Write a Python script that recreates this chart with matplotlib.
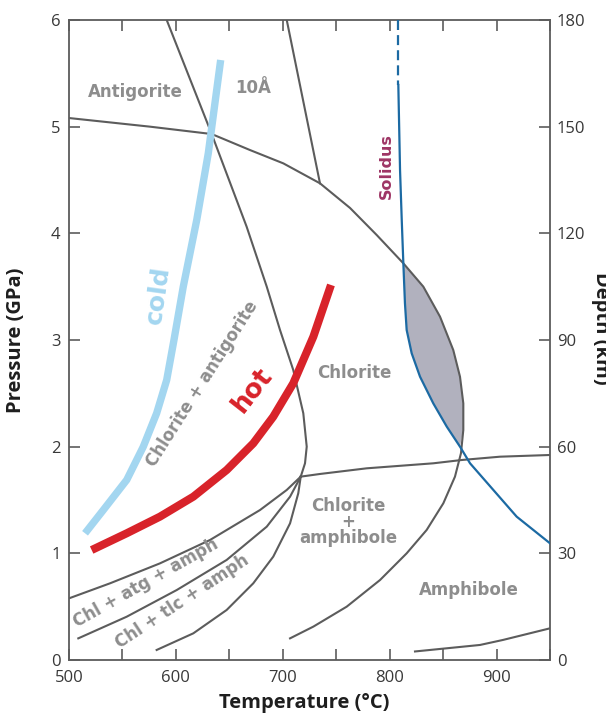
import numpy as np
import matplotlib.pyplot as plt

# phase boundaries, T in degC and P in GPa
arc_T = [500.0, 575.8, 633.5, 669.3, 700.5, 734.8, 762.9, 787.9, 812.8, 831.5, 847.1, 859.5,
         865.8, 868.9, 868.9, 866.7, 861.1, 850.2, 834.6, 815.9, 791.0, 759.8, 728.6, 706.8]
arc_P = [5.081, 5.0, 4.931, 4.781, 4.656, 4.469, 4.238, 3.984, 3.719, 3.5, 3.219, 2.906,
         2.656, 2.406, 2.156, 1.938, 1.719, 1.469, 1.219, 1.0, 0.75, 0.5, 0.313, 0.203]

atg_T = [591.4, 633.5]
atg_P = [6.0, 4.931]

tenA_T = [703.7, 734.8]
tenA_P = [6.0, 4.469]

chlatg_T = [633.5, 666.2, 685.0, 697.4, 709.8, 719.2, 722.4, 720.8, 716.8]
chlatg_P = [4.931, 4.062, 3.5, 3.094, 2.719, 2.313, 2.0, 1.844, 1.719]

horiz_T = [716.8, 734.8, 778.5, 840.8, 867.4, 903.2, 950.0]
horiz_P = [1.719, 1.744, 1.797, 1.844, 1.875, 1.906, 1.922]

lineA_T = [500.0, 538.4, 585.1, 631.9, 678.7, 703.7, 716.8]
lineA_P = [0.578, 0.719, 0.906, 1.125, 1.406, 1.594, 1.719]

lineB_T = [508.7, 554.0, 600.8, 647.5, 685.0, 706.8, 716.8]
lineB_P = [0.203, 0.406, 0.656, 0.938, 1.25, 1.531, 1.719]

lineC_T = [582.0, 616.3, 647.5, 672.4, 691.1, 706.8, 714.5, 716.8]
lineC_P = [0.094, 0.25, 0.469, 0.719, 0.969, 1.281, 1.563, 1.719]

lowr_T = [823.7, 884.5, 906.0, 950.0]
lowr_P = [0.080, 0.141, 0.188, 0.297]

sol_dash_T = [808.1, 808.1]
sol_dash_P = [6.0, 5.391]
sol_T = [808.1, 809.7, 811.3, 812.8, 814.3, 815.9, 820.6, 828.4, 840.8, 853.4, 865.8,
         875.2, 897.0, 918.8, 950.0]
sol_P = [5.391, 4.594, 4.125, 3.719, 3.344, 3.094, 2.875, 2.656, 2.406, 2.188, 2.0,
         1.844, 1.594, 1.344, 1.094]

# subduction P-T paths
cold_T = [515.0, 532.1, 554.0, 569.5, 582.0, 591.4, 598.2, 606.9, 619.5, 630.3, 641.9]
cold_P = [1.188, 1.406, 1.688, 2.0, 2.313, 2.625, 3.0, 3.5, 4.125, 4.75, 5.625]

hot_T = [521.2, 554.0, 585.1, 616.3, 647.5, 672.4, 691.1, 709.8, 728.6, 745.1]
hot_P = [1.031, 1.188, 1.344, 1.531, 1.781, 2.031, 2.281, 2.594, 3.031, 3.516]

dark = '#5c5c5c'
txt = '#8d8d8d'
tickfont = 'Open Sans'
labfont = 'DejaVu Sans'

fig = plt.figure(figsize=(6.06, 7.15), dpi=100)
ax = fig.add_axes([69/606, 55/715, 481/606, 640/715])

# partial melt region between solidus and chlorite-out curve
sT = [t for t, p in zip(sol_T, sol_P) if 2.0 <= p <= 3.72]
sP = [p for p in sol_P if 2.0 <= p <= 3.72]
aT = [t for t, p in zip(arc_T, arc_P) if 2.0 <= p < 3.71]
aP = [p for p in arc_P if 2.0 <= p < 3.71]
ax.fill(sT + aT[::-1], sP + aP[::-1], color='#b1b1be', lw=0, zorder=1)

for xs, ys in [(arc_T, arc_P), (atg_T, atg_P), (tenA_T, tenA_P), (chlatg_T, chlatg_P),
               (horiz_T, horiz_P), (lineA_T, lineA_P), (lineB_T, lineB_P),
               (lineC_T, lineC_P), (lowr_T, lowr_P)]:
    ax.plot(xs, ys, color=dark, lw=1.5, zorder=2, solid_joinstyle='round')

ax.plot(sol_dash_T, sol_dash_P, color='#1c6aa3', lw=1.6, ls=(0, (4.5, 2.3)), zorder=3)
ax.plot(sol_T, sol_P, color='#1c6aa3', lw=1.6, zorder=3, solid_joinstyle='round')

ax.plot(cold_T, cold_P, color='#a3d6f0', lw=5.3, zorder=4, solid_capstyle='butt',
        solid_joinstyle='round')
ax.plot(hot_T, hot_P, color='#d8232a', lw=5.8, zorder=4, solid_capstyle='butt',
        solid_joinstyle='round')

lab = dict(color=txt, fontweight='bold', family=labfont, ha='center', va='center',
           fontsize=12)
ax.text(561.7, 5.325, 'Antigorite', **lab)
ax.text(672.6, 5.367, '10Å', **lab)
ax.text(797.0, 4.627, 'Solidus', fontsize=11.5, rotation=90, color='#9e3565',
        fontweight='bold', family=labfont, ha='center', va='center')
ax.text(583.3, 3.42, 'cold', fontsize=18, rotation=82, color='#a3d6f0',
        fontweight='bold', family=labfont, ha='center', va='center')
ax.text(624.4, 2.59, 'Chlorite + antigorite', rotation=57.5, **lab)
ax.text(672.1, 2.53, 'hot', fontsize=19, rotation=52, color='#d8232a',
        fontweight='bold', family=labfont, ha='center', va='center')
ax.text(766.6, 2.686, 'Chlorite', **lab)
ax.text(761.0, 1.294, 'Chlorite\n+\namphibole', linespacing=0.85, **lab)
ax.text(874.2, 0.656, 'Amphibole', **lab)
ax.text(572.0, 0.722, 'Chl + atg + amph', rotation=29.4, **lab)
ax.text(605.7, 0.544, 'Chl + tlc + amph', rotation=33.4, **lab)

ax.set_xlim(500, 950)
ax.set_ylim(0, 6)
ax.set_xticks([500, 600, 700, 800, 900])
ax.set_xticks([550, 650, 750, 850, 950], minor=True)
ax.set_yticks(range(7))
ax.tick_params(axis='both', which='both', direction='in', length=8, width=1.2,
               color=dark, top=True, labelsize=12, labelcolor='#383838')
ax.tick_params(axis='x', pad=7)
ax.tick_params(axis='y', pad=6)
for s in ax.spines.values():
    s.set_color(dark)
    s.set_linewidth(1.3)
for t in ax.get_xticklabels() + ax.get_yticklabels():
    t.set_family(tickfont)

ax2 = ax.twinx()
ax2.set_ylim(0, 180)
ax2.set_yticks(range(0, 181, 30))
ax2.tick_params(axis='y', direction='in', length=8, width=1.2, color=dark,
                labelsize=12, labelcolor='#383838', pad=5)
for s in ax2.spines.values():
    s.set_visible(False)
for t in ax2.get_yticklabels():
    t.set_family(tickfont)

axlab = dict(fontsize=14.5, fontweight='bold', family=tickfont, ha='center', va='center',
             color='#1e1e1e')
fig.text(304/606, 1 - 703/715, 'Temperature (°C)', **axlab)
fig.text(16/606, 1 - 340/715, 'Pressure (GPa)', rotation=90, **axlab)
fig.text(601/606, 1 - 328/715, 'Depth (km)', rotation=-90, **axlab)

fig.savefig('out.png', dpi=100)
